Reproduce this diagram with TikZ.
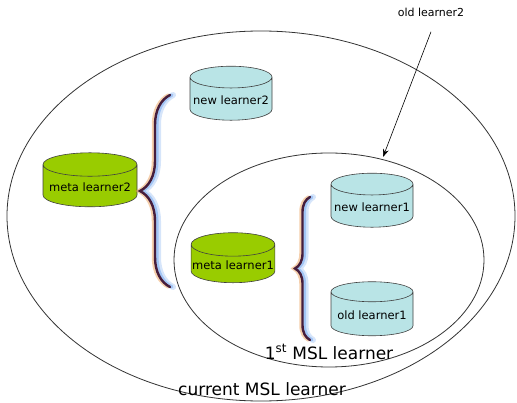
\documentclass[tikz,border=0pt]{standalone}
\usepackage{fontspec}
\setmainfont{DejaVu Sans}
\usetikzlibrary{shapes.geometric,arrows.meta,decorations.pathreplacing}

\definecolor{cylblue}{RGB}{185,228,230}
\definecolor{cylgreen}{RGB}{153,204,0}
\definecolor{bracecore}{RGB}{70,30,60}
\definecolor{braceblue}{RGB}{120,170,240}
\definecolor{braceorange}{RGB}{235,160,90}

\tikzset{
  learner/.style={cylinder, shape border rotate=90, draw=black!75, line width=0.6pt,
    aspect=0.28, minimum width=82pt, minimum height=54pt, inner sep=1pt,
    font=\fontsize{11.5}{13}\selectfont},
  newlearner/.style={learner, fill=cylblue},
  metalearner/.style={learner, fill=cylgreen},
  msl/.style={ellipse, draw=black!80, line width=0.8pt, inner sep=0pt},
  mslname/.style={font=\fontsize{17}{20}\selectfont},
  bracelayer/.style={decorate, decoration={brace, amplitude=#1}, line cap=round},
}

\newcommand{\glowbrace}[3]{%
  % blue and orange halo, then the dark stroke
  \draw[bracelayer=#3, line width=6pt, color=braceblue, opacity=0.3] ([xshift=3pt]#1) -- ([xshift=3pt]#2);
  \draw[bracelayer=#3, line width=3.5pt, color=braceblue, opacity=0.55] ([xshift=1.8pt]#1) -- ([xshift=1.8pt]#2);
  \draw[bracelayer=#3, line width=3.5pt, color=braceorange, opacity=0.5] ([xshift=-1.5pt]#1) -- ([xshift=-1.5pt]#2);
  \draw[bracelayer=#3, line width=2.4pt, color=bracecore] (#1) -- (#2);
}

\begin{document}
\begin{tikzpicture}[x=1pt, y=-1pt]
  \useasboundingbox (0,0) rectangle (517,403);

  % --- the two MSL learners ---
  \node[msl, minimum width=508pt, minimum height=370pt] (current) at (261,216) {};
  \node[msl, minimum width=310pt, minimum height=214pt] (first) at (329,260) {};

  % --- learners ---
  \node[newlearner] (new2) at (231,100) {new learner2};
  \node[metalearner, minimum width=94pt] (meta2) at (90,187) {meta learner2};
  \node[newlearner] (new1) at (372,207) {new learner1};
  \node[metalearner, minimum width=78pt, minimum height=50pt] (meta1) at (233,265) {meta learner1};
  \node[newlearner] (old1) at (372,315) {old learner1};

  % --- braces ---
  \coordinate (b2top) at (170,95);
  \coordinate (b2bot) at (170,287);
  \coordinate (b1top) at (310,197);
  \coordinate (b1bot) at (310,340);
  \glowbrace{b2bot}{b2top}{30pt}
  \glowbrace{b1bot}{b1top}{15pt}

  % --- labels ---
  \node[mslname] (firstname) at (329,352) {1\textsuperscript{st} MSL learner};
  \node[mslname] (currentname) at (262,389) {current MSL learner};

  % --- old learner2 arrow ---
  \node[font=\fontsize{11}{13}\selectfont] (old2) at (431,12) {old learner2};
  \coordinate (old2tip) at (383,157);
  \draw[-{Stealth[length=8pt,width=6pt]}, line width=0.6pt] ([yshift=-12pt]old2.south) -- (old2tip);

\end{tikzpicture}
\end{document}
